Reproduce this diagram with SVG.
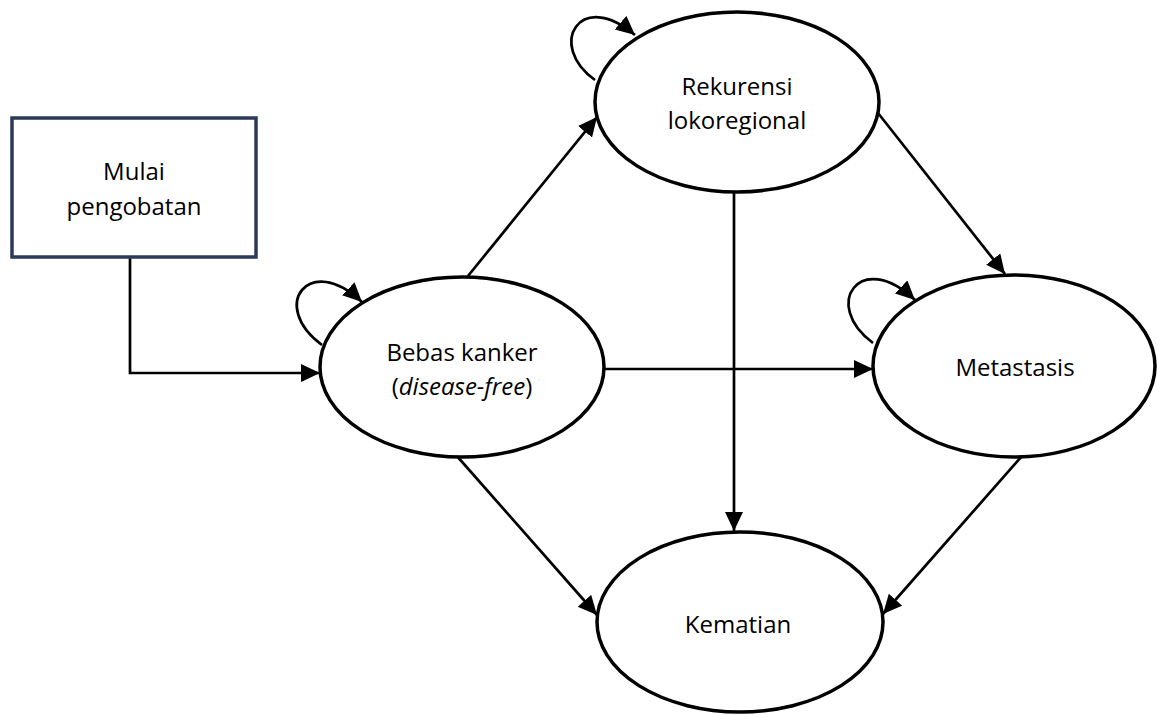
<svg xmlns="http://www.w3.org/2000/svg" width="1157" height="715" viewBox="0 0 1157 715">
<style>
.n{fill:#fff;stroke:#000;stroke-width:3.5}
.b{fill:#fff;stroke:#2b3a58;stroke-width:3.5}
.t{font-family:"Open Sans","Liberation Sans",sans-serif;font-size:24px;fill:#000;text-anchor:middle}
.c{fill:none;stroke:#000;stroke-width:2.7}
</style>
<defs>
<marker id="a" markerUnits="userSpaceOnUse" markerWidth="22" markerHeight="20" refX="19" refY="9" orient="auto">
<path d="M0,0 L19,9 L0,18 z" fill="#000"/>
</marker>
</defs>
<g id="connectors">
<path class="c" d="M130,257 V373 H320" marker-end="url(#a)"/>
<path class="c" d="M468,276 L597,117" marker-end="url(#a)"/>
<path class="c" d="M605,369 H873" marker-end="url(#a)"/>
<path class="c" d="M456,455 L597,615" marker-end="url(#a)"/>
<path class="c" d="M734,192 V531" marker-end="url(#a)"/>
<path class="c" d="M878,113 L1005,274" marker-end="url(#a)"/>
<path class="c" d="M1022,456 L883,614" marker-end="url(#a)"/>
<path class="c" d="M322,345 C268,305 310,252 362,302" marker-end="url(#a)"/>
<path class="c" d="M595,80 C546,45 580,-12 635,35" marker-end="url(#a)"/>
<path class="c" d="M873,343 C821,305 860,248 915,300" marker-end="url(#a)"/>
</g>
<g id="mulai">
<rect class="b" x="12" y="118" width="244" height="139"/>
<text class="t" x="134" y="180">Mulai</text>
<text class="t" x="134" y="215">pengobatan</text>
</g>
<g id="bebas">
<ellipse class="n" cx="462" cy="367" rx="142" ry="90"/>
<text class="t" x="462" y="361">Bebas kanker</text>
<text class="t" x="462" y="395">(<tspan font-style="italic">disease-free</tspan>)</text>
</g>
<g id="rekurensi">
<ellipse class="n" cx="737" cy="102" rx="142" ry="90"/>
<text class="t" x="737" y="95">Rekurensi</text>
<text class="t" x="737" y="129">lokoregional</text>
</g>
<g id="metastasis">
<ellipse class="n" cx="1014" cy="366" rx="141" ry="91"/>
<text class="t" x="1015" y="376">Metastasis</text>
</g>
<g id="kematian">
<ellipse class="n" cx="740" cy="622" rx="143" ry="90"/>
<text class="t" x="738" y="633">Kematian</text>
</g>
</svg>
